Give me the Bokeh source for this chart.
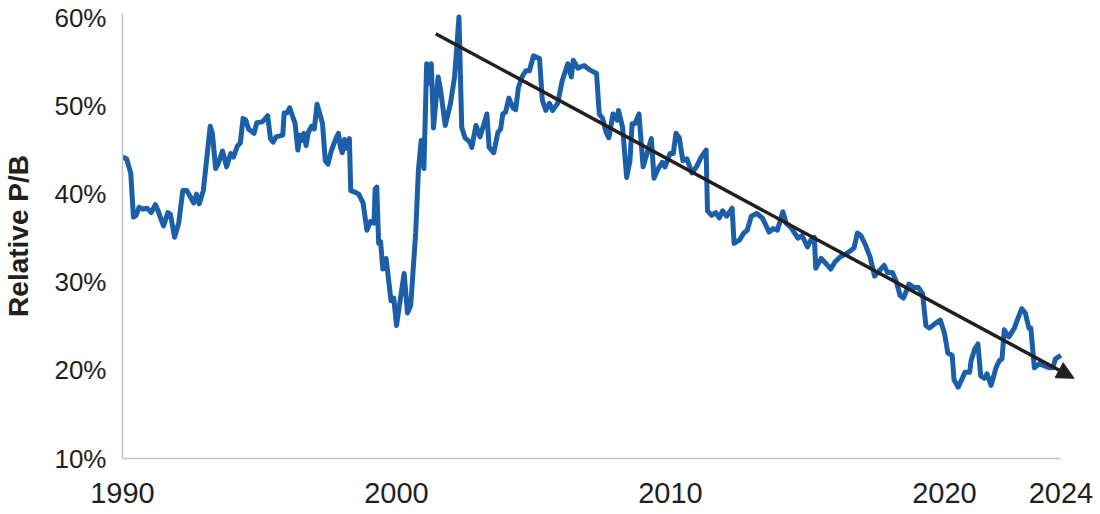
from bokeh.plotting import figure
from bokeh.models import Range1d, FixedTicker, Arrow, NormalHead, PrintfTickFormatter
from bokeh.embed import file_html
from bokeh.resources import INLINE

# ---- data ----
years = [
    1990.00, 1990.15, 1990.30, 1990.40, 1990.50, 1990.60, 1990.75, 1990.90, 1991.05, 1991.20,
    1991.30, 1991.40, 1991.50, 1991.65, 1991.75, 1991.90, 1992.05, 1992.20, 1992.35, 1992.60,
    1992.70, 1992.80, 1992.95, 1993.20, 1993.28, 1993.40, 1993.50, 1993.65, 1993.80, 1993.95,
    1994.05, 1994.20, 1994.30, 1994.40, 1994.50, 1994.60, 1994.80, 1994.90, 1995.10, 1995.25,
    1995.30, 1995.40, 1995.50, 1995.60, 1995.85, 1995.90, 1996.00, 1996.10, 1996.20, 1996.30,
    1996.40, 1996.48, 1996.55, 1996.62, 1996.70, 1996.78, 1996.90, 1997.00, 1997.10, 1997.22,
    1997.30, 1997.40, 1997.50, 1997.62, 1997.80, 1997.88, 1997.95, 1998.02, 1998.10, 1998.18,
    1998.28, 1998.33, 1998.50, 1998.62, 1998.78, 1998.92, 1999.05, 1999.18, 1999.22, 1999.28,
    1999.35, 1999.42, 1999.50, 1999.62, 1999.80, 1999.90, 2000.00, 2000.15, 2000.28, 2000.40,
    2000.52, 2000.70, 2000.80, 2000.90, 2001.00, 2001.10, 2001.18, 2001.27, 2001.35, 2001.52,
    2001.60, 2001.78, 2001.97, 2002.12, 2002.28, 2002.38, 2002.50, 2002.68, 2002.75, 2002.90,
    2003.05, 2003.30, 2003.38, 2003.55, 2003.70, 2003.80, 2003.88, 2003.98, 2004.10, 2004.25,
    2004.35, 2004.45, 2004.58, 2004.72, 2004.85, 2005.00, 2005.22, 2005.32, 2005.45, 2005.58,
    2005.70, 2005.88, 2006.05, 2006.25, 2006.38, 2006.45, 2006.62, 2006.85, 2007.05, 2007.30,
    2007.40, 2007.52, 2007.65, 2007.75, 2007.90, 2008.05, 2008.10, 2008.25, 2008.40, 2008.52,
    2008.60, 2008.70, 2008.85, 2009.00, 2009.15, 2009.30, 2009.40, 2009.55, 2009.70, 2009.80,
    2009.98, 2010.10, 2010.20, 2010.32, 2010.45, 2010.60, 2010.78, 2010.95, 2011.12, 2011.30,
    2011.35, 2011.50, 2011.65, 2011.78, 2011.90, 2012.05, 2012.25, 2012.32, 2012.52, 2012.68,
    2012.80, 2012.95, 2013.15, 2013.35, 2013.60, 2013.75, 2013.90, 2014.10, 2014.22, 2014.40,
    2014.65, 2014.80, 2015.00, 2015.12, 2015.25, 2015.30, 2015.50, 2015.68, 2015.85, 2016.00,
    2016.20, 2016.40, 2016.58, 2016.70, 2016.82, 2016.95, 2017.12, 2017.28, 2017.45, 2017.62,
    2017.80, 2017.92, 2018.10, 2018.25, 2018.38, 2018.50, 2018.62, 2018.70, 2018.88, 2019.05,
    2019.20, 2019.32, 2019.45, 2019.65, 2019.85, 2020.00, 2020.12, 2020.28, 2020.35, 2020.50,
    2020.62, 2020.75, 2020.92, 2020.97, 2021.10, 2021.22, 2021.32, 2021.45, 2021.55, 2021.70,
    2021.88, 2022.00, 2022.10, 2022.18, 2022.35, 2022.55, 2022.68, 2022.82, 2022.95, 2023.08,
    2023.15, 2023.28, 2023.48, 2023.65, 2023.82, 2023.95, 2024.05, 2024.25,
]

relative_pb = [  # percent
    44.2, 44.0, 42.4, 37.4, 37.6, 38.5, 38.3, 38.4, 37.9, 38.8,
    38.1, 37.2, 36.4, 37.9, 37.7, 35.1, 36.7, 40.4, 40.4, 39.0,
    40.0, 38.9, 40.4, 47.7, 46.9, 42.9, 43.5, 44.9, 43.1, 44.6,
    44.2, 45.5, 45.8, 48.6, 48.4, 47.4, 46.9, 48.1, 48.2, 48.7,
    48.9, 46.3, 45.9, 46.5, 46.7, 49.2, 49.2, 49.8, 48.9, 48.0,
    45.0, 46.7, 46.1, 46.9, 45.5, 47.0, 47.7, 47.4, 50.2, 48.9,
    48.0, 43.8, 43.4, 44.9, 46.4, 46.9, 45.4, 44.7, 46.2, 45.2,
    46.3, 40.4, 40.2, 40.0, 39.0, 35.9, 36.9, 36.7, 40.6, 40.8,
    34.4, 34.6, 31.5, 32.7, 27.9, 28.2, 25.1, 28.3, 31.0, 26.5,
    27.4, 35.6, 42.7, 46.1, 42.9, 54.8, 52.6, 54.8, 47.5, 53.3,
    52.0, 47.8, 50.3, 53.3, 60.1, 47.6, 46.4, 45.9, 45.3, 47.8,
    46.5, 49.1, 45.3, 44.7, 47.0, 47.4, 49.1, 49.3, 50.9, 49.8,
    49.6, 52.1, 53.3, 54.0, 54.0, 55.7, 55.4, 50.7, 49.5, 50.3,
    49.5, 50.3, 52.9, 54.8, 53.3, 55.2, 54.3, 54.6, 54.1, 53.7,
    49.1, 48.6, 47.0, 46.4, 49.1, 48.4, 49.5, 47.6, 41.9, 43.8,
    48.0, 48.0, 49.1, 43.1, 44.7, 46.3, 41.8, 42.9, 43.6, 43.1,
    44.6, 44.6, 46.9, 46.4, 43.8, 44.0, 42.4, 43.1, 44.2, 45.0,
    38.1, 37.6, 37.9, 37.3, 38.1, 37.5, 38.4, 34.4, 34.8, 35.6,
    35.9, 37.5, 37.8, 37.3, 35.7, 36.1, 35.9, 38.0, 36.7, 36.2,
    35.0, 35.3, 34.0, 34.8, 35.1, 31.6, 32.7, 32.1, 31.5, 32.3,
    32.9, 33.2, 33.6, 33.9, 35.6, 35.3, 34.2, 32.9, 30.7, 31.3,
    31.9, 31.1, 31.1, 30.0, 28.5, 28.2, 29.1, 29.8, 29.4, 29.4,
    28.7, 25.1, 24.8, 25.3, 25.7, 24.2, 22.0, 21.7, 18.9, 18.1,
    18.9, 19.8, 19.8, 21.1, 22.4, 23.0, 19.4, 19.1, 19.6, 18.3,
    20.3, 21.1, 21.3, 24.6, 23.8, 24.8, 25.9, 27.0, 26.5, 24.8,
    24.8, 20.3, 20.8, 20.5, 20.3, 20.3, 21.3, 21.7,
]

# x tick labels: decades, plus the latest observation labelled "2024"
x_ticks = [1990, 2000, 2010, 2020, years[-1]]
x_tick_labels = ["1990", "2000", "2010", "2020", "2024"]
y_ticks = [10, 20, 30, 40, 50, 60]

# trend arrow (start / end in data units)
trend_years = [2001.43, 2024.73]
trend_values = [58.2, 19.1]

FONT = "Liberation Sans"
TEXT = "#231f20"
BLUE = "#1b5fa9"

p = figure(
    width=1100, height=514,
    x_range=Range1d(1990, 2025), y_range=Range1d(10, 60.5),
    output_backend="svg", toolbar_location=None,
    min_border_left=120, min_border_right=19, min_border_top=13, min_border_bottom=56,
)
p.outline_line_color = None
p.xgrid.visible = False
p.ygrid.visible = False
p.background_fill_color = "white"
p.border_fill_color = "white"

p.line(years, relative_pb, line_color=BLUE, line_width=5, line_join="round")

p.add_layout(Arrow(
    x_start=trend_years[0], y_start=trend_values[0],
    x_end=trend_years[1], y_end=trend_values[1],
    line_color=TEXT, line_width=3.5,
    end=NormalHead(size=17, fill_color=TEXT, line_color=TEXT, line_width=1),
))

for ax in (p.xaxis[0], p.yaxis[0]):
    ax.axis_line_color = "#c4c4c4"
    ax.axis_line_width = 1.5
    ax.major_tick_line_color = None
    ax.minor_tick_line_color = None
    ax.major_tick_out = 0
    ax.major_tick_in = 0
    ax.major_label_text_font = FONT
    ax.major_label_text_color = TEXT

xa = p.xaxis[0]
xa.ticker = FixedTicker(ticks=x_ticks)
xa.major_label_overrides = dict(zip(x_ticks, x_tick_labels))
xa.bounds = (years[0], years[-1])
xa.major_label_text_font_size = "29px"
xa.major_label_standoff = 24

ya = p.yaxis[0]
ya.ticker = FixedTicker(ticks=y_ticks)
ya.formatter = PrintfTickFormatter(format="%d%%")
ya.major_label_text_font_size = "26px"
ya.major_label_standoff = 16
ya.axis_label = "Relative P/B"
ya.axis_label_text_font = FONT
ya.axis_label_text_font_style = "bold"
ya.axis_label_text_font_size = "28px"
ya.axis_label_text_color = TEXT
ya.axis_label_standoff = 17

open("out.html", "w").write(file_html(p, INLINE))
